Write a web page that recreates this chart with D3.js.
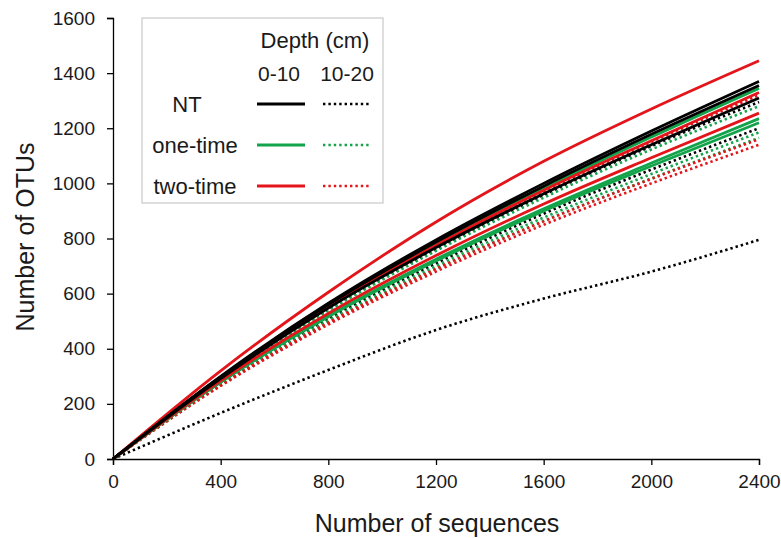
<!DOCTYPE html>
<html><head><meta charset="utf-8">
<script src="https://cdn.jsdelivr.net/npm/d3@7"></script>
<style>
body{margin:0;background:#fff;}
text{font-family:"Liberation Sans",Arial,sans-serif;fill:#1a1a1a;}
</style></head>
<body><svg id="c" width="781" height="538"></svg>
<script>
// x positions of sampled points (number of sequences)
const seqs = [0, 400, 800, 1200, 1600, 2000, 2400];
const xTicks = [0, 400, 800, 1200, 1600, 2000, 2400];
const yTicks = [0, 200, 400, 600, 800, 1000, 1200, 1400, 1600];

// Rarefaction curves (Number of OTUs)
const ntTop    = [[0, 300, 565, 795, 1000, 1190, 1370], [0, 298, 560, 787, 990, 1178, 1355], [0, 292, 548, 767, 962, 1140, 1310]];
const ntSub    = [[0, 290, 543, 762, 958, 1135, 1295], [0, 275, 508, 710, 890, 1050, 1200], [0, 167, 323, 468, 582, 680, 795]];
const oneTop   = [[0, 296, 556, 780, 982, 1168, 1345], [0, 280, 520, 725, 908, 1074, 1235], [0, 278, 516, 718, 900, 1063, 1220]];
const oneSub   = [[0, 288, 538, 755, 948, 1123, 1280], [0, 272, 502, 700, 876, 1034, 1185], [0, 268, 494, 690, 864, 1018, 1165]];
const twoTop   = [[0, 320, 605, 860, 1080, 1270, 1445], [0, 296, 553, 776, 975, 1155, 1330], [0, 284, 528, 738, 925, 1093, 1255]];
const twoSub   = [[0, 294, 550, 772, 970, 1150, 1320], [0, 268, 495, 690, 862, 1016, 1160], [0, 265, 488, 680, 850, 1000, 1140]];

const treatments = ["NT", "one-time", "two-time"];
const depths = ["0-10", "10-20"];
const colors = ["#000000", "#13a34b", "#e3151a"];

const seriesSets = [
  {t:0, d:1, data: ntSub}, {t:1, d:1, data: oneSub}, {t:2, d:1, data: twoSub},
  {t:1, d:0, data: oneTop}, {t:2, d:0, data: twoTop}, {t:0, d:0, data: ntTop}
];

const svg = d3.select("#c");
const x = d3.scaleLinear().domain([0, 2400]).range([113, 759]);
const y = d3.scaleLinear().domain([0, 1600]).range([459, 18]);

// axes
const xAxis = svg.append("g").attr("transform", "translate(0,459)")
  .call(d3.axisBottom(x).tickValues(xTicks).tickSizeOuter(0).tickSize(6).tickPadding(10).tickFormat(d3.format("d")));
const yAxis = svg.append("g").attr("transform", "translate(113,0)")
  .call(d3.axisLeft(y).tickValues(yTicks).tickSizeOuter(0).tickSize(6).tickPadding(12).tickFormat(d3.format("d")));
[xAxis, yAxis].forEach(g => {
  g.selectAll("path,line").attr("stroke", "#000").attr("stroke-width", 1.3);
  g.selectAll("text").attr("font-size", 19).attr("fill", "#1a1a1a").attr("font-family", "Liberation Sans, Arial, sans-serif");
});

// lines
const line = d3.line().x((d, i) => x(seqs[i])).y(d => y(d)).curve(d3.curveMonotoneX);
const plot = svg.append("g");
seriesSets.forEach(s => {
  s.data.forEach(vals => {
    plot.append("path").attr("d", line(vals))
      .attr("fill", "none")
      .attr("stroke", colors[s.t])
      .attr("stroke-width", s.d === 0 ? 2.8 : 2.6)
      .attr("stroke-dasharray", s.d === 0 ? null : "2.4,3");
  });
});

// axis titles
svg.append("text").attr("x", 437).attr("y", 532).attr("text-anchor", "middle")
  .attr("font-size", 25).text("Number of sequences");
svg.append("text").attr("transform", "translate(34,237) rotate(-90)").attr("text-anchor", "middle")
  .attr("font-size", 25).text("Number of OTUs");

// legend
const lg = svg.append("g");
lg.append("rect").attr("x", 142).attr("y", 18).attr("width", 241).attr("height", 185)
  .attr("fill", "#fff").attr("stroke", "#c8c8c8").attr("stroke-width", 1.2);
lg.append("text").attr("x", 315).attr("y", 48).attr("text-anchor", "middle").attr("font-size", 22).text("Depth (cm)");
const colX = [279, 347];
depths.forEach((dp, j) => {
  lg.append("text").attr("x", colX[j]).attr("y", 81).attr("text-anchor", "middle").attr("font-size", 21).text(dp);
});
const rowY = [104, 145, 186];
const labelX = [187, 195, 195];
treatments.forEach((t, i) => {
  lg.append("text").attr("x", labelX[i]).attr("y", rowY[i] + 8).attr("text-anchor", "middle").attr("font-size", 22).text(t);
  lg.append("line").attr("x1", 257).attr("x2", 305).attr("y1", rowY[i]).attr("y2", rowY[i])
    .attr("stroke", colors[i]).attr("stroke-width", 3);
  lg.append("line").attr("x1", 323).attr("x2", 371).attr("y1", rowY[i]).attr("y2", rowY[i])
    .attr("stroke", colors[i]).attr("stroke-width", 2.6).attr("stroke-dasharray", "2.4,3");
});
</script></body></html>
